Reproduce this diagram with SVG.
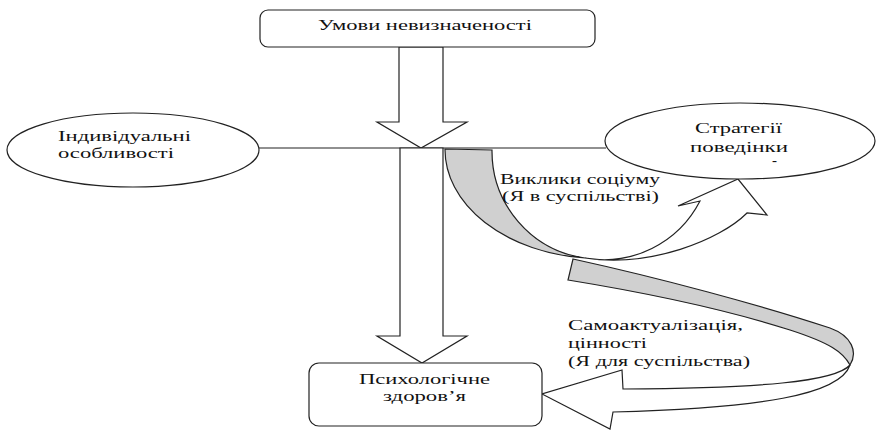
<svg xmlns="http://www.w3.org/2000/svg" width="876" height="430" viewBox="0 0 876 430">
<style>
.s{fill:#fff;stroke:#222;stroke-width:1.2}
.g{fill:#d0d0d0;stroke:#222;stroke-width:1.2}
.t{font-family:"Liberation Serif","DejaVu Serif",serif;font-size:15px;fill:#111}
</style>
<rect width="876" height="430" fill="#fff"/>
<g id="connectors">
<line x1="258" y1="148" x2="606" y2="148" stroke="#222" stroke-width="1.2"/>
<path class="s" d="M399,47 L443,47 L443,122 L467,122 L421,148 L377,122 L399,122 Z"/>
<path class="s" d="M400,148 L443,148 L443,336 L467,336 L422,363 L377,336 L400,336 Z"/>
<path class="s" d="M585,258 A108,108 0 0 0 700,201 L678,206 L738,179 L767,215 L747,213 C720,240 650,268 585,258 Z"/>
<path class="g" d="M445,149 L492,150 A108,108 0 0 0 585,258 A155,109 0 0 1 445,149 Z"/>
<path class="g" d="M573,259 C660,278 760,305 830,328 C852,336 858,352 850,365 C843,352 830,343 790,330 C740,314 660,295 568,280 Z"/>
<path class="s" d="M850,365 C835,382 760,388 623,389 L622,370 L542,394 L610,429 L613,412 C760,408 840,395 850,365 Z"/>
<text class="t" font-family="Liberation Serif, DejaVu Serif, serif" x="500" y="184" textLength="160" lengthAdjust="spacingAndGlyphs">Виклики соціуму</text>
<text class="t" font-family="Liberation Serif, DejaVu Serif, serif" x="502" y="201" textLength="157" lengthAdjust="spacingAndGlyphs">(Я в суспільстві)</text>
<text class="t" font-family="Liberation Serif, DejaVu Serif, serif" x="568" y="330" textLength="175" lengthAdjust="spacingAndGlyphs">Самоактуалізація,</text>
<text class="t" font-family="Liberation Serif, DejaVu Serif, serif" x="568" y="348" textLength="79" lengthAdjust="spacingAndGlyphs">цінності</text>
<text class="t" font-family="Liberation Serif, DejaVu Serif, serif" x="568" y="366" textLength="182" lengthAdjust="spacingAndGlyphs">(Я для суспільства)</text>
</g>
<g id="node-uncertainty">
<rect class="s" x="260" y="10" width="335" height="37" rx="8"/>
<text class="t" font-family="Liberation Serif, DejaVu Serif, serif" x="318" y="30" textLength="214" lengthAdjust="spacingAndGlyphs">Умови невизначеності</text>
</g>
<g id="node-individual">
<ellipse class="s" cx="133" cy="150" rx="126" ry="37"/>
<text class="t" font-family="Liberation Serif, DejaVu Serif, serif" x="58" y="141" textLength="133" lengthAdjust="spacingAndGlyphs">Індивідуальні</text>
<text class="t" font-family="Liberation Serif, DejaVu Serif, serif" x="58" y="158" textLength="116" lengthAdjust="spacingAndGlyphs">особливості</text>
</g>
<g id="node-strategies">
<ellipse class="s" cx="740" cy="141" rx="135" ry="38"/>
<text class="t" font-family="Liberation Serif, DejaVu Serif, serif" x="695" y="133" textLength="87" lengthAdjust="spacingAndGlyphs">Стратегії</text>
<text class="t" font-family="Liberation Serif, DejaVu Serif, serif" x="690" y="152" textLength="98" lengthAdjust="spacingAndGlyphs">поведінки</text>
<text class="t" font-family="Liberation Serif, DejaVu Serif, serif" x="772" y="165" font-size="11">-</text>
</g>
<g id="node-health">
<rect class="s" x="309" y="363" width="233" height="63" rx="10"/>
<text class="t" font-family="Liberation Serif, DejaVu Serif, serif" x="359" y="384" textLength="131" lengthAdjust="spacingAndGlyphs">Психологічне</text>
<text class="t" font-family="Liberation Serif, DejaVu Serif, serif" x="383" y="401" textLength="83" lengthAdjust="spacingAndGlyphs">здоров’я</text>
</g>
</svg>
